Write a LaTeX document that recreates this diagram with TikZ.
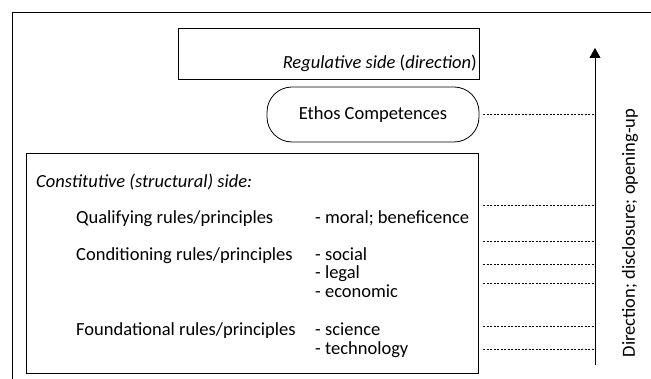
\documentclass[tikz,border=0pt]{standalone}
\usepackage{fontspec}
\setmainfont{Carlito}
\usetikzlibrary{arrows.meta}
\tikzset{
	box/.style={draw, line width=0.8pt},
	guide/.style={line width=0.6pt, dash pattern=on 2pt off 1.5pt},
	txt/.style={anchor=base west, inner sep=0pt, font=\fontsize{18.5}{22}\selectfont}
}
\begin{document}
\begin{tikzpicture}[x=1pt, y=-1pt]
		\useasboundingbox (0,0) rectangle (651,379);
		% outer frame (cut at right and bottom)
		\draw[line width=0.8pt] (651,12) -- (12,12) -- (12,379);
		
		% regulative side
		\draw[box] (178,28) rectangle (479,79);
		\node[anchor=base east, inner sep=0pt, font=\fontsize{18.5}{22}\selectfont] (reg) at (477,69) {\textit{Regulative side} (\textit{direction})};
		\node[box, rounded corners=25pt, minimum width=212pt, minimum height=55pt, font=\fontsize{18.5}{22}\selectfont] (ethos) at (373,114.5) {Ethos Competences};
		
		% constitutive side
		\draw[box] (26,153) rectangle (478,373);
		\node[txt] (cons) at (36,188) {\textit{Constitutive (structural) side:}};
		\node[txt] (qual) at (76,224) {Qualifying rules/principles};
		\node[txt] (cond) at (76,261) {Conditioning rules/principles};
		\node[txt] (found) at (76,336) {Foundational rules/principles};
		\node[txt] (moral) at (315,224) {- moral; beneficence};
		\node[txt] (social) at (315,261) {- social};
		\node[txt] (legal) at (315,279) {- legal};
		\node[txt] (econ) at (315,297.5) {- economic};
		\node[txt] (sci) at (315,336) {- science};
		\node[txt] (tech) at (315,354.5) {- technology};
		
		% direction arrow
		\coordinate (dbot) at (595,365);
		\coordinate (dtop) at (595,48);
		\draw[line width=0.8pt, -{Triangle[width=11pt,length=10pt]}] (dbot) -- (dtop);
		\node[rotate=90, font=\fontsize{18.5}{22}\selectfont] (dir) at (630,233) {Direction; disclosure; opening-up};
		
		% guides
		\draw[guide] ([xshift=4pt]ethos.east) -- (ethos.east -| dbot);
		\foreach \yy in {205,241,264,283,326,349}{
			\coordinate (g\yy) at (483,\yy);
			\draw[guide] (g\yy) -- (g\yy -| dbot);
		}
\end{tikzpicture}
\end{document}
